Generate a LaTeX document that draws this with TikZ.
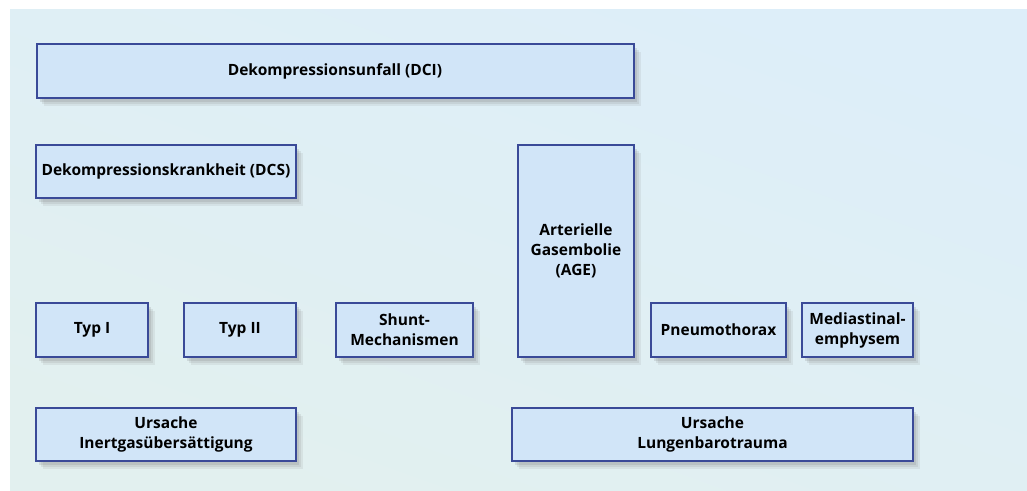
\documentclass[tikz,border=0pt]{standalone}
\usepackage{fontspec}
\setmainfont{Open Sans}
\usetikzlibrary{shadows}

\definecolor{kastenrand}{HTML}{3A4A98}
\definecolor{kastenfuell}{HTML}{D1E5F8}
\definecolor{hgoben}{HTML}{DDEEF9}
\definecolor{hgmitte}{HTML}{C4E1EA}
\definecolor{hgunten}{HTML}{E2F0EF}

\begin{document}
\begin{tikzpicture}[x=1pt,y=-1pt,
  kasten/.style={draw=kastenrand, line width=2pt, fill=kastenfuell,
    align=center, inner sep=2pt,
    font=\fontsize{15.5}{20}\selectfont\bfseries,
    drop shadow={opacity=0.12, shadow xshift=7pt, shadow yshift=-8pt},
    drop shadow={opacity=0.15, shadow xshift=5pt, shadow yshift=-6pt},
    drop shadow={opacity=0.2, shadow xshift=3pt, shadow yshift=-4pt}}]
\useasboundingbox (0,0) rectangle (1027,490);
\fill[white] (0,0) rectangle (1027,490);
\shade[top color=hgoben, middle color=hgmitte, bottom color=hgunten, shading angle=-20]
  (10,9) rectangle (1027,490);

\node[kasten, minimum width=597pt, minimum height=54pt] (dci) at (335,71) {Dekompressionsunfall (DCI)};
\node[kasten, minimum width=260pt, minimum height=53pt] (dcs) at (166,171.5) {Dekompressionskrankheit (DCS)};
\node[kasten, minimum width=116pt, minimum height=212pt] (age) at (576,251) {Arterielle\\Gasembolie\\(AGE)};

\node[kasten, minimum width=112pt, minimum height=54pt] (typ1) at (92,330) {Typ I};
\node[kasten, minimum width=112pt, minimum height=54pt] (typ2) at (240,330) {Typ II};
\node[kasten, minimum width=137pt, minimum height=54pt] (shunt) at (404.5,330) {Shunt-\\Mechanismen};
\node[kasten, minimum width=135pt, minimum height=54pt] (pneu) at (718.5,330) {Pneumothorax};
\node[kasten, minimum width=111pt, minimum height=54pt] (media) at (857.5,330) {Mediastinal-\\emphysem};

\node[kasten, minimum width=260pt, minimum height=53pt] (ursinert) at (166,434) {Ursache\\Inertgasübersättigung};
\node[kasten, minimum width=401pt, minimum height=53pt] (urslunge) at (712.5,434) {Ursache\\Lungenbarotrauma};
\end{tikzpicture}
\end{document}
